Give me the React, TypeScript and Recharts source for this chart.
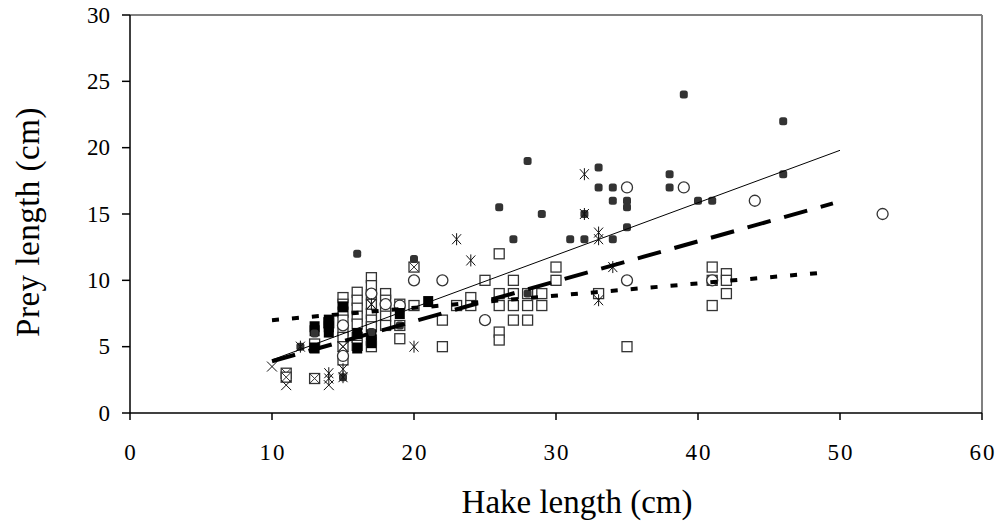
import React from "react";
import { ScatterChart, Scatter, XAxis, YAxis, ReferenceLine } from "recharts";

const xTicks = [0, 10, 20, 30, 40, 50, 60];
const yTicks = [0, 5, 10, 15, 20, 25, 30];

// hake length (cm), prey length (cm)
const openSquares = [
  [13, 5.2], [14, 6.8],
  [15, 8.7], [15, 8.2], [15, 7.6], [15, 7.0], [15, 6.2], [15, 5.7], [15, 4.0],
  [16, 9.1], [16, 8.5], [16, 7.9], [16, 7.3], [16, 6.7], [16, 5.7], [16, 5.1],
  [17, 10.2], [17, 9.6], [17, 8.9], [17, 7.5], [17, 7.0], [17, 6.5], [17, 5.5], [17, 5.0],
  [18, 9.0], [18, 8.5], [18, 7.9], [18, 7.3], [18, 6.6],
  [19, 8.2], [19, 6.6], [19, 5.6],
  [20, 8.1], [22, 7.0], [22, 5.0], [23, 8.1], [24, 8.7], [24, 8.1], [25, 10.0],
  [26, 12.0], [26, 9.0], [26, 8.1], [26, 6.1], [26, 5.5],
  [27, 10.0], [27, 9.0], [27, 8.1], [27, 7.0],
  [28, 9.0], [28, 8.1], [28, 7.0], [29, 9.0], [29, 8.1],
  [30, 11.0], [30, 10.0], [33, 9.0], [35, 5.0],
  [41, 11.0], [41, 10.0], [41, 8.1], [42, 10.5], [42, 10.0], [42, 9.0],
];
const filledSquares = [
  [13, 6.5], [13, 6.2], [13, 4.9], [14, 7.0], [14, 6.5], [14, 6.1], [15, 8.0],
  [16, 6.0], [16, 4.9], [17, 5.9], [17, 5.3], [19, 7.5], [21, 8.4],
];
const dots = [
  [12, 5.0], [13, 6.0], [15, 2.7], [16, 12.0], [17, 6.1], [19, 6.6], [20, 11.6],
  [26, 15.5], [27, 13.1], [28, 19.0], [28, 9.0], [29, 15.0], [31, 13.1], [32, 15.0],
  [32, 13.1], [33, 18.5], [33, 17.0], [34, 17.0], [34, 16.0], [34, 13.1], [35, 16.0],
  [35, 15.5], [35, 14.0], [38, 18.0], [38, 17.0], [39, 24.0], [40, 16.0], [41, 16.0],
  [46, 22.0], [46, 18.0],
];
const openCircles = [
  [15, 6.6], [15, 4.3], [17, 9.0], [18, 8.2], [19, 8.1], [20, 10.0], [22, 10.0], [25, 7.0],
  [35, 17.0], [35, 10.0], [39, 17.0], [41, 10.0], [44, 16.0], [53, 15.0],
];
const asterisks = [
  [12, 5.0], [14, 3.0], [14, 2.6], [15, 3.3], [15, 2.7], [17, 8.2], [20, 5.0],
  [23, 13.1], [24, 11.5], [32, 18.0], [32, 15.0], [33, 13.6], [33, 13.1], [33, 8.5],
  [34, 11.0],
];
const crosses = [[10, 3.5], [11, 2.1], [14, 2.1], [15, 5.0]];
const crossedSquares = [[11, 3.0], [11, 2.7], [13, 2.6], [15, 5.0], [17, 8.2], [20, 11.0]];

// fitted lines
const solidFit = [[10, 4.0], [50, 19.8]];
const dashedFit = [[10, 3.9], [49.5, 15.8]];
const dottedFit = [[10, 7.0], [49, 10.6]];

const toPoints = (pairs: number[][]) => pairs.map(([x, y]) => ({ x, y }));

const serif = '"Liberation Serif", "Times New Roman", serif';

const OpenSquare = ({ cx, cy }: any) => (
  <rect x={cx - 5} y={cy - 5} width={10} height={10} fill="#fff" stroke="#333" strokeWidth={1.3} />
);
const FilledSquare = ({ cx, cy }: any) => (
  <rect x={cx - 5} y={cy - 5.5} width={10} height={11} fill="#000" />
);
const Dot = ({ cx, cy }: any) => (
  <rect x={cx - 4} y={cy - 4} width={8} height={8} rx={2.5} fill="#333" />
);
const OpenCircle = ({ cx, cy }: any) => (
  <circle cx={cx} cy={cy} r={5.5} fill="#fff" stroke="#333" strokeWidth={1.3} />
);
const Asterisk = ({ cx, cy }: any) => (
  <path
    d={`M${cx},${cy - 6}L${cx},${cy + 6}M${cx - 4.5},${cy - 5}L${cx + 4.5},${cy + 5}M${cx - 4.5},${cy + 5}L${cx + 4.5},${cy - 5}`}
    stroke="#111"
    strokeWidth={1}
    fill="none"
  />
);
const Cross = ({ cx, cy }: any) => (
  <path
    d={`M${cx - 5},${cy - 5}L${cx + 5},${cy + 5}M${cx - 5},${cy + 5}L${cx + 5},${cy - 5}`}
    stroke="#111"
    strokeWidth={1}
    fill="none"
  />
);
const CrossedSquare = ({ cx, cy }: any) => (
  <g>
    <rect x={cx - 5} y={cy - 5} width={10} height={10} fill="#fff" stroke="#333" strokeWidth={1.3} />
    <path d={`M${cx - 5},${cy - 5}L${cx + 5},${cy + 5}M${cx - 5},${cy + 5}L${cx + 5},${cy - 5}`} stroke="#333" strokeWidth={1} />
  </g>
);
const NoMark = () => <g />;

const XTick = ({ x, y, payload }: any) => (
  <text x={x + 1} y={y} dy="0.71em" textAnchor="middle" fontFamily={serif} fontSize={23} letterSpacing={2} fill="#000">
    {payload.value}
  </text>
);
const YTick = ({ x, y, payload }: any) => (
  <text x={x} y={y} dy="0.34em" textAnchor="end" fontFamily={serif} fontSize={23} fill="#000">
    {payload.value}
  </text>
);

export default function App() {
  return (
    <div style={{ position: "absolute", left: 0, top: 0 }}>
      <ScatterChart width={997} height={523} margin={{ top: 15, right: 15, bottom: 0, left: 0 }}>
        <XAxis
          type="number"
          dataKey="x"
          domain={[0, 60]}
          ticks={xTicks}
          interval={0}
          height={110}
          tickSize={7}
          tickMargin={24}
          axisLine={{ stroke: "#000", strokeWidth: 1.5 }}
          tickLine={{ stroke: "#000", strokeWidth: 1.5 }}
          tick={XTick}
          label={{
            value: "Hake length (cm)",
            position: "insideBottom",
            offset: 10,
            dx: 21,
            style: { fontFamily: serif, fontSize: 33, fill: "#000" },
          }}
        />
        <YAxis
          type="number"
          dataKey="y"
          domain={[0, 30]}
          ticks={yTicks}
          interval={0}
          width={130}
          tickSize={8}
          tickMargin={12}
          axisLine={{ stroke: "#000", strokeWidth: 1.5 }}
          tickLine={{ stroke: "#000", strokeWidth: 1.5 }}
          tick={YTick}
          label={{
            value: "Prey length (cm)",
            angle: -90,
            position: "insideLeft",
            offset: 27,
            dy: 8,
            style: { fontFamily: serif, fontSize: 33, fill: "#000", textAnchor: "middle", letterSpacing: 0.5 },
          }}
        />
        <ReferenceLine y={30} stroke="#808080" strokeWidth={2} />
        <ReferenceLine x={60} stroke="#808080" strokeWidth={2} />
        <Scatter data={toPoints(openSquares)} shape={OpenSquare} isAnimationActive={false} />
        <Scatter data={toPoints(crossedSquares)} shape={CrossedSquare} isAnimationActive={false} />
        <Scatter data={toPoints(openCircles)} shape={OpenCircle} isAnimationActive={false} />
        <Scatter data={toPoints(filledSquares)} shape={FilledSquare} isAnimationActive={false} />
        <Scatter data={toPoints(dots)} shape={Dot} isAnimationActive={false} />
        <Scatter data={toPoints(asterisks)} shape={Asterisk} isAnimationActive={false} />
        <Scatter data={toPoints(crosses)} shape={Cross} isAnimationActive={false} />
        <Scatter
          data={toPoints(solidFit)}
          shape={NoMark}
          line={{ stroke: "#000", strokeWidth: 1 }}
          isAnimationActive={false}
        />
        <Scatter
          data={toPoints(dashedFit)}
          shape={NoMark}
          line={{ stroke: "#000", strokeWidth: 4, strokeDasharray: "24 14" }}
          isAnimationActive={false}
        />
        <Scatter
          data={toPoints(dottedFit)}
          shape={NoMark}
          line={{ stroke: "#000", strokeWidth: 4, strokeDasharray: "7 13" }}
          isAnimationActive={false}
        />
      </ScatterChart>
    </div>
  );
}
